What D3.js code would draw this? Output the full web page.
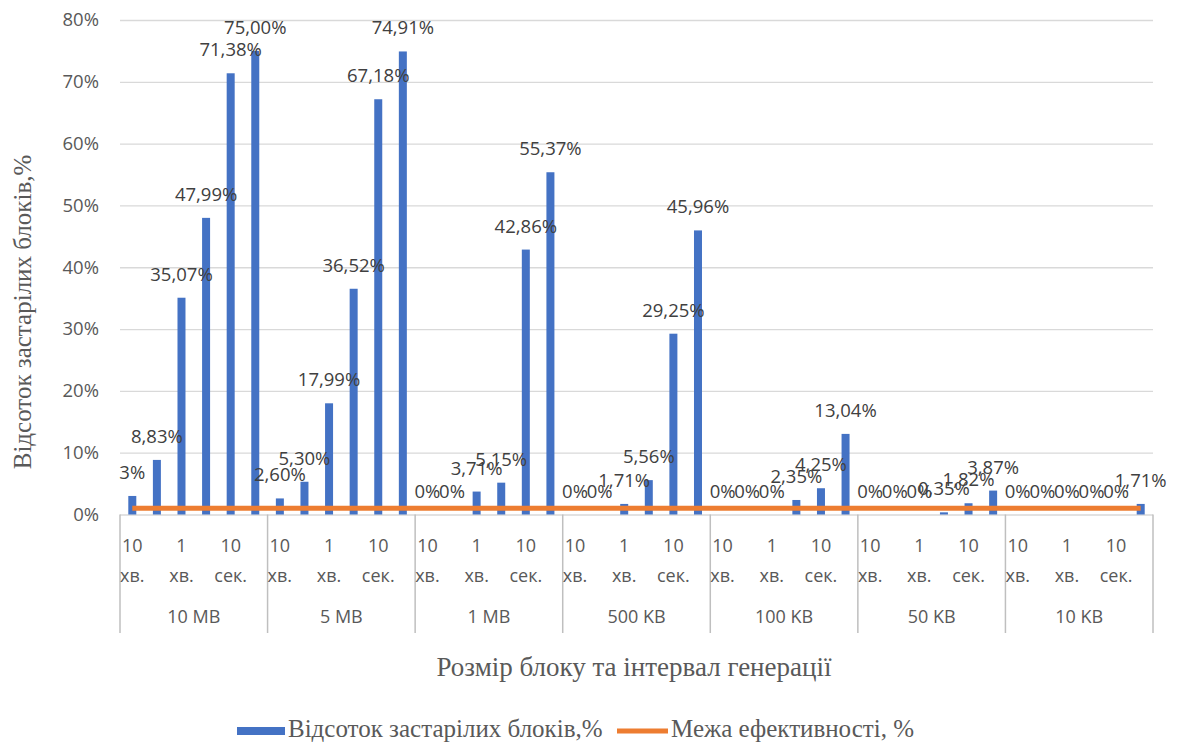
<!DOCTYPE html>
<html>
<head>
<meta charset="utf-8">
<script src="https://cdn.jsdelivr.net/npm/d3@7"></script>
<style>
  body { margin: 0; background: #fff; }
  svg { display: block; }
</style>
</head>
<body>
<svg id="chart" width="1179" height="742"></svg>
<script>
// block sizes (outer categories)
const groups = ["10 MB", "5 MB", "1 MB", "500 KB", "100 KB", "50 KB", "10 KB"];
// generation interval labels (only every other one is shown on the chart)
const intervals = ["10 хв.", "", "1 хв.", "", "10 сек.", ""];

// share of stale blocks, % (one row per block size)
const staleValues = [
    [3, 8.83, 35.07, 47.99, 71.38, 75.00],
    [2.60, 5.30, 17.99, 36.52, 67.18, 74.91],
    [0, 0, 3.71, 5.15, 42.86, 55.37],
    [0, 0, 1.71, 5.56, 29.25, 45.96],
    [0, 0, 0, 2.35, 4.25, 13.04],
    [0, 0, 0, 0.35, 1.82, 3.87],
    [0, 0, 0, 0, 0, 1.71]
];
const staleLabels = [
    ["3%", "8,83%", "35,07%", "47,99%", "71,38%", "75,00%"],
    ["2,60%", "5,30%", "17,99%", "36,52%", "67,18%", "74,91%"],
    ["0%", "0%", "3,71%", "5,15%", "42,86%", "55,37%"],
    ["0%", "0%", "1,71%", "5,56%", "29,25%", "45,96%"],
    ["0%", "0%", "0%", "2,35%", "4,25%", "13,04%"],
    ["0%", "0%", "0%", "0,35%", "1,82%", "3,87%"],
    ["0%", "0%", "0%", "0%", "0%", "1,71%"]
];
// efficiency limit, %
const limitValues = [
    [1, 1, 1, 1, 1, 1],
    [1, 1, 1, 1, 1, 1],
    [1, 1, 1, 1, 1, 1],
    [1, 1, 1, 1, 1, 1],
    [1, 1, 1, 1, 1, 1],
    [1, 1, 1, 1, 1, 1],
    [1, 1, 1, 1, 1, 1]
];
const yTicks = [0, 10, 20, 30, 40, 50, 60, 70, 80];

const seriesNames = ["Відсоток застарілих блоків,%", "Межа ефективності, %"];
const xTitle = "Розмір блоку та інтервал генерації";

const blue = "#4472c4";
const orange = "#ed7d31";
const textGray = "#595959";
const sans = "'Open Sans', 'Noto Sans', sans-serif";
const serif = "'Liberation Serif', 'DejaVu Serif', serif";

const plot = { left: 120, right: 1153, top: 20, bottom: 514.5 };

const svg = d3.select("#chart");

const x0 = d3.scaleBand()
    .domain(groups)
    .range([plot.left, plot.right])
    .padding(0);

const x1 = d3.scaleBand()
    .domain(d3.range(intervals.length))
    .range([0, x0.bandwidth()])
    .padding(0);

const y = d3.scaleLinear()
    .domain([0, 80])
    .range([plot.bottom, plot.top]);

const barW = 8;

// flatten for easier drawing
const rows = [];
groups.forEach((g, gi) => {
    intervals.forEach((iv, ii) => {
        rows.push({
            group: g, idx: ii,
            value: staleValues[gi][ii],
            label: staleLabels[gi][ii],
            limit: limitValues[gi][ii],
            cx: x0(g) + x1(ii) + x1.bandwidth() / 2
        });
    });
});

// gridlines + y labels
const yAxis = svg.append("g")
    .attr("transform", `translate(${plot.left},0)`)
    .call(d3.axisLeft(y).tickValues(yTicks).tickSize(-(plot.right - plot.left)).tickFormat(d => d + "%"));
yAxis.select(".domain").remove();
yAxis.selectAll(".tick line").attr("stroke", "#d9d9d9").attr("stroke-width", 1.3);
yAxis.selectAll(".tick text")
    .attr("x", -21)
    .attr("fill", textGray)
    .style("font-family", sans)
    .style("font-size", "18.5px");

// category separators
svg.append("g").selectAll("line")
    .data(groups.map(g => x0(g)).concat([plot.right]))
    .enter().append("line")
    .attr("x1", d => d).attr("x2", d => d)
    .attr("y1", plot.bottom).attr("y2", 633)
    .attr("stroke", "#bfbfbf")
    .attr("stroke-width", 1.5);

// bars
svg.append("g").selectAll("rect")
    .data(rows)
    .enter().append("rect")
    .attr("x", d => d.cx - barW / 2)
    .attr("y", d => y(d.value))
    .attr("width", barW)
    .attr("height", d => y(0) - y(d.value))
    .attr("fill", blue);

// efficiency line
const line = d3.line()
    .x(d => d.cx)
    .y(d => y(d.limit));
svg.append("path")
    .datum(rows)
    .attr("d", line)
    .attr("fill", "none")
    .attr("stroke", orange)
    .attr("stroke-width", 5);

// data labels
svg.append("g").selectAll("text")
    .data(rows)
    .enter().append("text")
    .attr("x", d => d.cx)
    .attr("y", d => y(d.value) - 17)
    .attr("text-anchor", "middle")
    .attr("fill", "#404040")
    .style("font-family", sans)
    .style("font-size", "18.5px")
    .text(d => d.label);

// interval labels (two lines)
const ivLabels = svg.append("g").selectAll("text")
    .data(rows.filter(d => intervals[d.idx] !== ""))
    .enter().append("text")
    .attr("text-anchor", "middle")
    .attr("fill", textGray)
    .style("font-family", sans)
    .style("font-size", "18px");
ivLabels.each(function(d) {
    const parts = intervals[d.idx].split(" ");
    const t = d3.select(this);
    parts.forEach((p, i) => {
        t.append("tspan")
            .attr("x", d.cx)
            .attr("y", 552 + i * 30)
            .text(p);
    });
});

// group labels
svg.append("g").selectAll("text")
    .data(groups)
    .enter().append("text")
    .attr("x", d => x0(d) + x0.bandwidth() / 2)
    .attr("y", 623)
    .attr("text-anchor", "middle")
    .attr("fill", textGray)
    .style("font-family", sans)
    .style("font-size", "18px")
    .text(d => d);

// axis titles
svg.append("text")
    .attr("transform", "translate(31,312) rotate(-90)")
    .attr("text-anchor", "middle")
    .attr("fill", textGray)
    .style("font-family", serif)
    .style("font-size", "25px")
    .text(seriesNames[0]);

svg.append("text")
    .attr("x", 634)
    .attr("y", 676)
    .attr("text-anchor", "middle")
    .attr("fill", textGray)
    .style("font-family", serif)
    .style("font-size", "27px")
    .text(xTitle);

// legend
const legend = svg.append("g");
legend.append("rect")
    .attr("x", 237).attr("y", 727)
    .attr("width", 48).attr("height", 8)
    .attr("fill", blue);
legend.append("text")
    .attr("x", 288).attr("y", 737)
    .attr("fill", textGray)
    .style("font-family", serif)
    .style("font-size", "25px")
    .text(seriesNames[0]);
legend.append("line")
    .attr("x1", 617).attr("x2", 668)
    .attr("y1", 731).attr("y2", 731)
    .attr("stroke", orange)
    .attr("stroke-width", 5);
legend.append("text")
    .attr("x", 671).attr("y", 737)
    .attr("fill", textGray)
    .style("font-family", serif)
    .style("font-size", "25px")
    .text(seriesNames[1]);
</script>
</body>
</html>
